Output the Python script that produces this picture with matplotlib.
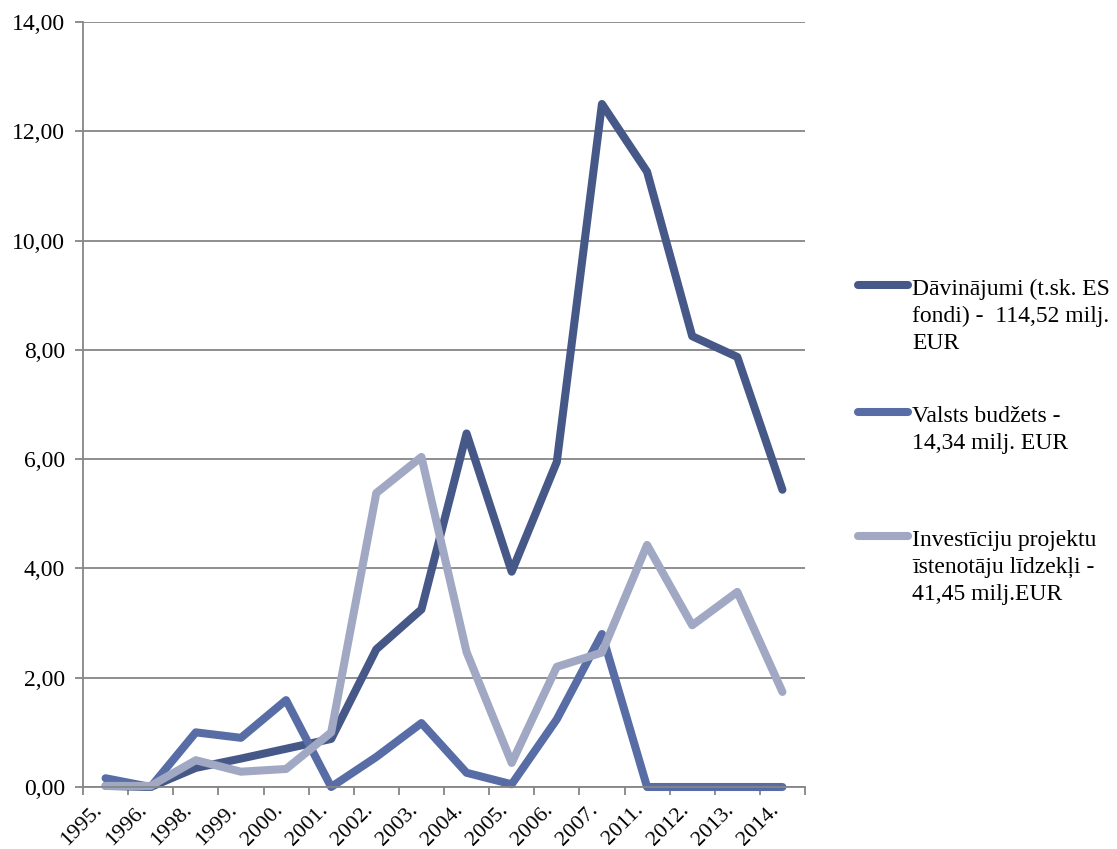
import matplotlib
matplotlib.use("Agg")
import matplotlib.pyplot as plt
from matplotlib.lines import Line2D
from matplotlib.ticker import FuncFormatter, FixedLocator
from matplotlib.transforms import ScaledTranslation

years = ["1995.", "1996.", "1998.", "1999.", "2000.", "2001.", "2002.", "2003.",
         "2004.", "2005.", "2006.", "2007.", "2011.", "2012.", "2013.", "2014."]

davinajumi = [0.02, 0.0, 0.35, 0.52, 0.70, 0.88, 2.52, 3.25, 6.47, 3.94, 5.95, 12.50,
              11.26, 8.25, 7.87, 5.44]
valsts = [0.16, 0.0, 1.0, 0.90, 1.59, 0.0, 0.55, 1.17, 0.26, 0.05, 1.24, 2.80,
          0.0, 0.0, 0.0, 0.0]
investiciju = [0.02, 0.02, 0.49, 0.28, 0.33, 1.0, 5.38, 6.04, 2.47, 0.44, 2.20, 2.46,
               4.43, 2.96, 3.57, 1.74]

labels = ["Dāvinājumi (t.sk. ES\nfondi) -  114,52 milj.\nEUR",
          "Valsts budžets -\n14,34 milj. EUR",
          "Investīciju projektu\nīstenotāju līdzekļi -\n41,45 milj.EUR"]
colors = ["#465888", "#586DA6", "#A0A8C3"]

plt.rcParams['font.family'] = ['Liberation Serif', 'DejaVu Serif']
FS = 17

fig = plt.figure(figsize=(11.17, 8.49), dpi=100)
ax = fig.add_axes([83/1117, 1 - 787/849, (805-83)/1117, (787-22)/849])

x = [i + 0.5 for i in range(len(years))]
lw = 5.8
for vals, c in zip([davinajumi, valsts, investiciju], colors):
    ax.plot(x, vals, color=c, lw=lw, solid_capstyle='round', solid_joinstyle='round',
            clip_on=False)

ax.set_xlim(0, len(years))
ax.set_ylim(0, 14)
ax.set_yticks([0, 2, 4, 6, 8, 10, 12, 14])
ax.yaxis.set_major_formatter(FuncFormatter(lambda v, p: f"{v:.2f}".replace('.', ',')))
ax.grid(axis='y', color='#868686', lw=1.3)
ax.set_axisbelow(True)

ax.set_xticks(x)
ax.set_xticklabels(years, rotation=45, ha='right', va='baseline', rotation_mode='anchor')
ax.xaxis.set_minor_locator(FixedLocator(list(range(len(years) + 1))))
ax.tick_params(axis='x', which='major', length=0, pad=17, labelsize=16)
ax.tick_params(axis='x', which='minor', length=6, color='#868686', width=1.3)
ax.tick_params(axis='y', length=6, color='#868686', width=1.3, labelsize=FS, pad=7)
off = ScaledTranslation(-3/100, 0, fig.dpi_scale_trans)
for t in ax.get_xticklabels():
    t.set_transform(t.get_transform() + off)

for s in ['top', 'right']:
    ax.spines[s].set_visible(False)
for s in ['left', 'bottom']:
    ax.spines[s].set_color('#868686')
    ax.spines[s].set_linewidth(1.3)

# legend drawn at right
ys = [285, 412, 536]
for lab, c, yp in zip(labels, colors, ys):
    yf = 1 - yp/849
    fig.add_artist(Line2D([858/1117, 908/1117], [yf, yf], color=c, lw=lw,
                          solid_capstyle='round', transform=fig.transFigure))
    fig.text(912/1117, 1 - (yp - 6)/849, lab, fontsize=FS, va='top', ha='left',
             linespacing=1.37, transform=fig.transFigure)

fig.savefig("out.png", dpi=100)
